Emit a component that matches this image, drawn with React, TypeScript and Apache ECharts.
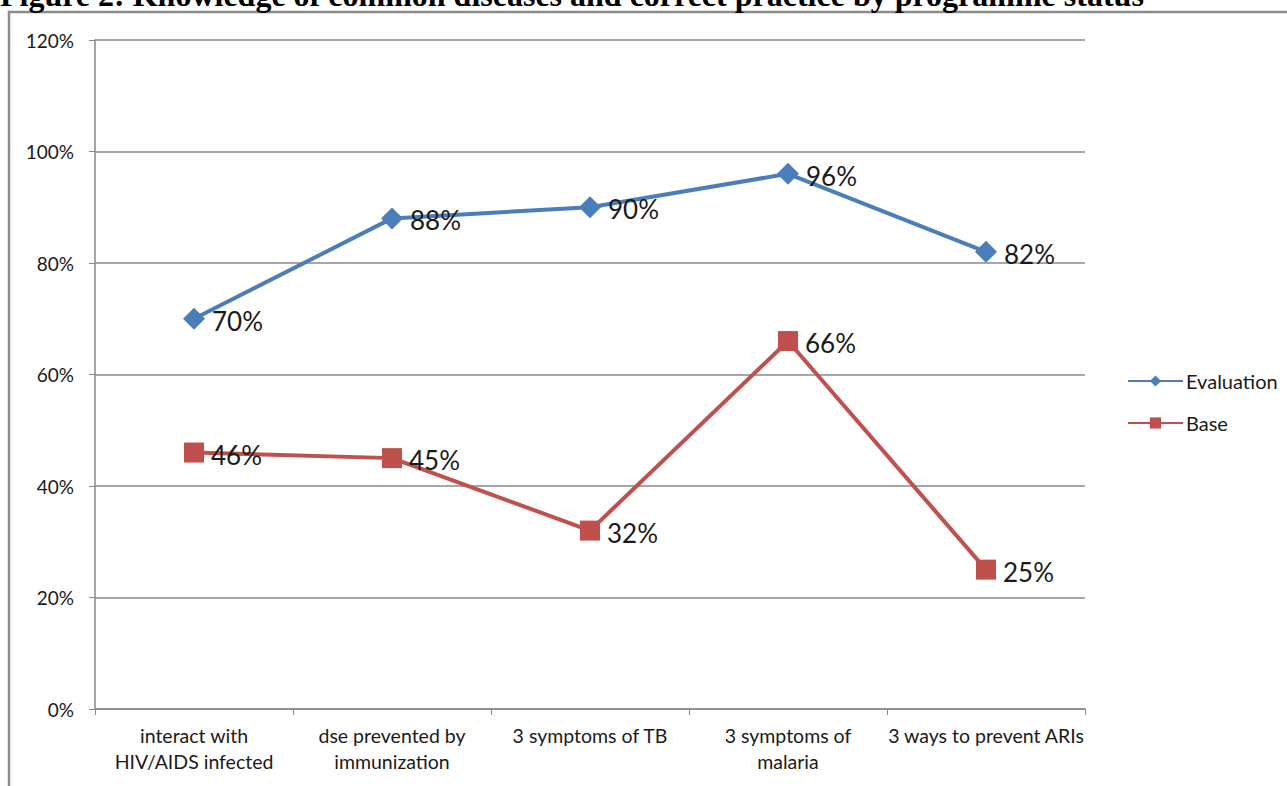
import React, { useEffect, useRef } from "react";
import * as echarts from "echarts";

const categories = [
  "interact with\nHIV/AIDS infected",
  "dse prevented by\nimmunization",
  "3 symptoms of TB",
  "3 symptoms of\nmalaria",
  "3 ways to prevent ARIs",
];
const evaluationValues = [0.7, 0.88, 0.9, 0.96, 0.82];
const baseValues = [0.46, 0.45, 0.32, 0.66, 0.25];
const yTicks = [0, 0.2, 0.4, 0.6, 0.8, 1.0, 1.2];
const titleText =
  "Figure 2: Knowledge of common diseases and correct practice by programme status";

const FONT = "Lato, 'Open Sans', sans-serif";

export default function App() {
  const ref = useRef<HTMLDivElement>(null);
  useEffect(() => {
    if (!ref.current) return;
    const chart = echarts.init(ref.current, undefined, { renderer: "svg" });
    const pct = (v: number) => Math.round(v * 100) + "%";
    chart.setOption({
      animation: false,
      backgroundColor: "#ffffff",
      graphic: [
        {
          type: "rect",
          shape: { x: 9, y: 12, width: 1400, height: 900 },
          style: { fill: "none", stroke: "#8c8c8c", lineWidth: 2.5 },
          silent: true,
        },
        {
          type: "text",
          x: 0,
          y: -5,
          style: {
            text: titleText,
            font: "bold 32px 'Liberation Serif', 'Times New Roman', serif",
            fill: "#000",
            verticalAlign: "middle",
            align: "left",
          },
        },
      ],
      grid: { left: 95, right: 202, top: 40, bottom: 77, containLabel: false },
      legend: {
        orient: "vertical",
        left: 1122,
        top: 366,
        itemWidth: 55,
        itemHeight: 14,
        itemGap: 22,
        textStyle: { fontFamily: FONT, fontSize: 20, color: "#1a1a1a", padding: [0, 0, 0, -2] },
        data: ["Evaluation", "Base"],
      },
      xAxis: {
        type: "category",
        data: categories,
        boundaryGap: true,
        axisLine: { lineStyle: { color: "#888", width: 1.5 } },
        axisTick: { show: true, length: 6, alignWithLabel: false, lineStyle: { color: "#888" } },
        axisLabel: {
          fontFamily: FONT,
          fontSize: 19.5,
          color: "#1a1a1a",
          margin: 13,
          lineHeight: 26,
          interval: 0,
        },
      },
      yAxis: {
        type: "value",
        min: 0,
        max: 1.2,
        interval: 0.2,
        axisLine: { show: true, lineStyle: { color: "#888", width: 1.5 } },
        axisTick: { show: true, length: 6, lineStyle: { color: "#888" } },
        splitLine: { lineStyle: { color: "#8a8a8a", width: 1.5 } },
        axisLabel: {
          fontFamily: FONT,
          fontSize: 19,
          color: "#1a1a1a",
          margin: 21,
          formatter: (v: number) => (yTicks.some((t) => Math.abs(t - v) < 1e-9) ? pct(v) : ""),
        },
      },
      series: [
        {
          name: "Evaluation",
          type: "line",
          data: evaluationValues,
          symbol: "diamond",
          symbolSize: 22,
          color: "#4a7ebb",
          lineStyle: { width: 4, color: "#4a7ebb" },
          itemStyle: { color: "#4a7ebb" },
          label: {
            show: true,
            position: "right",
            distance: 7,
            offset: [0, 2],
            formatter: (p: any) => pct(p.value),
            fontFamily: FONT,
            fontSize: 26,
            color: "#1a1a1a",
          },
        },
        {
          name: "Base",
          type: "line",
          data: baseValues,
          symbol: "rect",
          symbolSize: 20,
          color: "#c0504d",
          lineStyle: { width: 4, color: "#c0504d" },
          itemStyle: { color: "#c0504d" },
          label: {
            show: true,
            position: "right",
            distance: 7,
            offset: [0, 2],
            formatter: (p: any) => pct(p.value),
            fontFamily: FONT,
            fontSize: 26,
            color: "#1a1a1a",
          },
        },
      ],
    });
    return () => chart.dispose();
  }, []);
  return (
    <div
      ref={ref}
      style={{ position: "fixed", left: 0, top: 0, width: 1287, height: 786 }}
    />
  );
}
